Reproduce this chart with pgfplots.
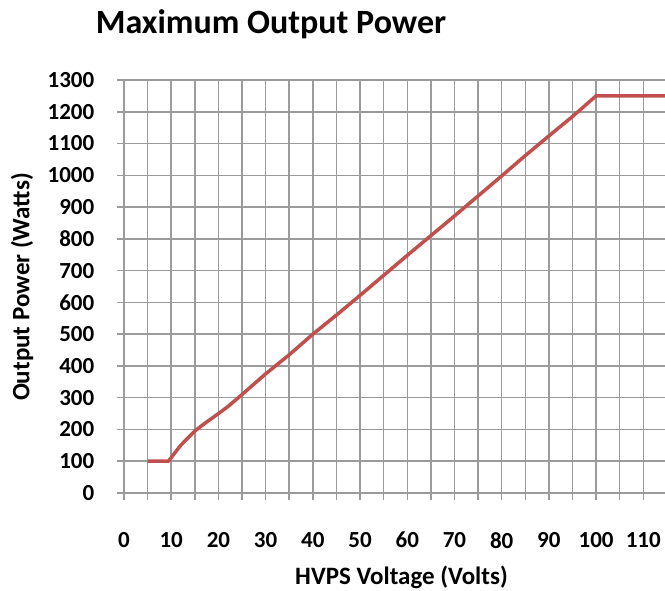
\documentclass[border=0pt]{standalone}
\usepackage{fontspec}
\setmainfont{Carlito}
\usepackage{pgfplots}
\pgfplotsset{compat=1.18}
\definecolor{gridgray}{RGB}{155,155,155}
\definecolor{linered}{RGB}{192,80,77}
\begin{document}
\begin{tikzpicture}[x=1bp,y=1bp]
\useasboundingbox (0,0) rectangle (665,591);
\begin{axis}[
  at={(124bp,98bp)}, anchor=south west,
  scale only axis, width=541bp, height=413bp,
  xmin=0, xmax=114.6, ymin=0, ymax=1300,
  xtick={0,10,...,110}, minor xtick={5,15,...,115},
  ytick={0,100,...,1300},
  grid=both,
  major grid style={gridgray, line width=1.5bp},
  minor grid style={gridgray, line width=1.5bp},
  axis x line*=bottom, axis y line*=left,
  axis line style={gridgray, line width=1.5bp, -},
  tick align=outside, major tick length=7bp, minor tick length=7bp,
  every tick/.style={gridgray, line width=1.5bp},
  minor tick style={gridgray, line width=1.5bp},
  /pgf/number format/assume math mode=true,
  ticklabel style={font=\fontsize{23bp}{27bp}\selectfont\bfseries},
  xticklabel style={inner sep=0pt, anchor=north, yshift=-32bp},
  yticklabel style={inner sep=0pt, anchor=east, xshift=-22.5bp},
  /pgf/number format/1000 sep={},
  clip=false,
]
\addplot[linered, line width=3.5bp, line join=round] coordinates {
(5,100) (9.4,100) (12,150) (15,195) (17,218) (20,250) (22,272) (25,310) (30,375) (35,435) (40,500) (45,560) (50,622) (55,685) (60,748) (65,810) (70,872) (75,935) (80,998) (85,1062) (90,1124) (95,1185) (100,1250) (114.6,1250)
};
\end{axis}
\node[font=\fontsize{34bp}{40bp}\selectfont\bfseries] at (271,567) {Maximum Output Power};
\node[font=\fontsize{25bp}{30bp}\selectfont\bfseries] at (401.5,14) {HVPS Voltage (Volts)};
\node[rotate=90, font=\fontsize{25bp}{30bp}\selectfont\bfseries] at (22,304) {Output Power (Watts)};
\end{tikzpicture}
\end{document}
